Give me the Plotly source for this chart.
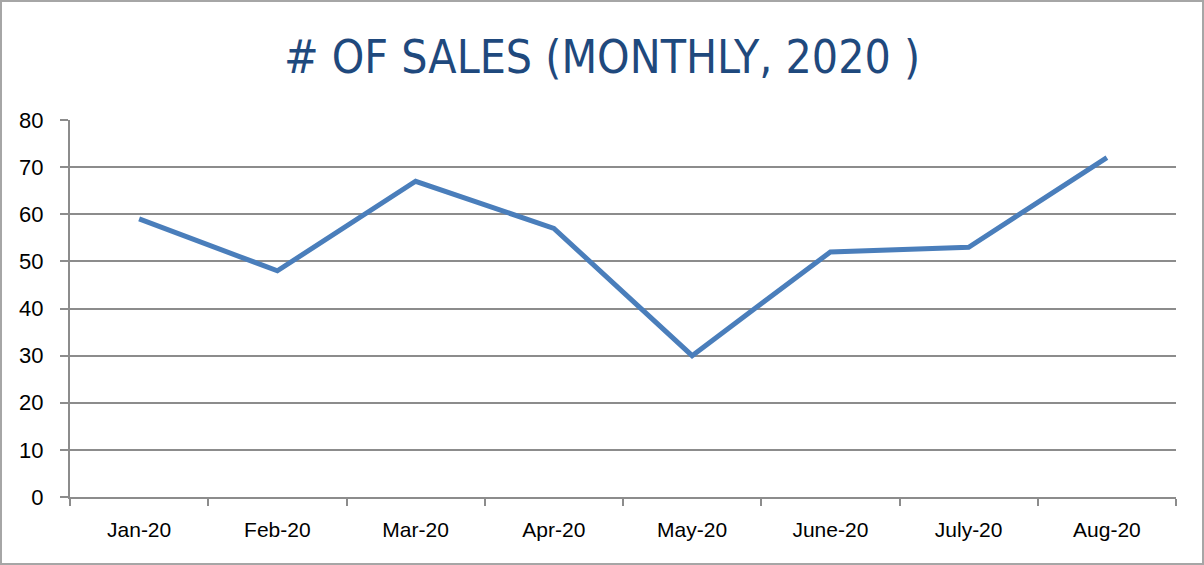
import plotly.graph_objects as go

months = ["Jan-20", "Feb-20", "Mar-20", "Apr-20", "May-20", "June-20", "July-20", "Aug-20"]
sales = [59, 48, 67, 57, 30, 52, 53, 72]
y_ticks = [0, 10, 20, 30, 40, 50, 60, 70, 80]

W, H = 1204, 565
ml, mr, mt, mb = 70, 28, 120, 68
pw, ph = W - ml - mr, H - mt - mb

fig = go.Figure()
fig.add_trace(go.Scatter(
    x=months, y=sales, mode="lines",
    line=dict(color="#4a7ebb", width=5),
    hoverinfo="x+y",
))

fig.update_layout(
    width=W, height=H,
    margin=dict(l=ml, r=mr, t=mt, b=mb),
    paper_bgcolor="white", plot_bgcolor="white",
    showlegend=False,
    title=dict(
        text="# OF SALES (MONTHLY, 2020 )",
        x=0.5, xanchor="center", y=1 - 57 / H, yanchor="middle",
        font=dict(family="DejaVu Sans Condensed, Liberation Sans Narrow, sans-serif",
                  size=46, color="#1f497d"),
    ),
    xaxis=dict(
        type="category", range=[-0.5, 7.5],
        showline=True, linecolor="#8c8c8c", linewidth=2,
        ticks="outside", tickson="boundaries", ticklen=7, tickcolor="#8c8c8c", tickwidth=2,
        showgrid=False,
        tickfont=dict(family="Liberation Sans, Arial, sans-serif", size=21, color="black"),
        ticklabelstandoff=13,
    ),
    yaxis=dict(
        range=[0, 80], tickvals=y_ticks,
        showline=True, linecolor="#8c8c8c", linewidth=2,
        ticks="outside", ticklen=8, tickcolor="#8c8c8c", tickwidth=2,
        showgrid=True, gridcolor="#8c8c8c", gridwidth=1.5,
        zeroline=False,
        tickfont=dict(family="Liberation Sans, Arial, sans-serif", size=22, color="black"),
        ticklabelstandoff=12,
    ),
    shapes=[dict(
        type="rect", xref="paper", yref="paper",
        x0=(1 - ml) / pw, x1=(W - ml - 1) / pw,
        y0=-(mb - 1) / ph, y1=(ph + mt - 1) / ph,
        line=dict(color="#a6a6a6", width=2), fillcolor="rgba(0,0,0,0)", layer="below",
    )],
)

fig.write_html("out.html", config={"displayModeBar": False},
               post_script="document.body.style.margin='0';document.body.style.overflow='hidden';")
